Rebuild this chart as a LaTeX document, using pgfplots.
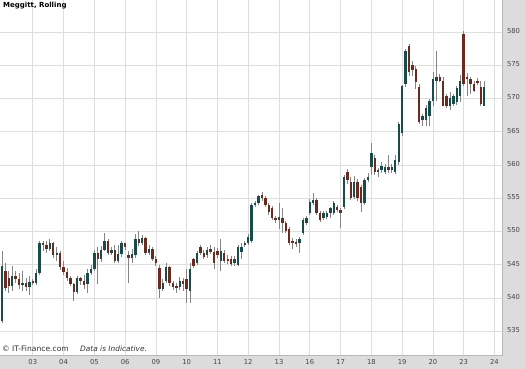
\documentclass[border=0pt]{standalone}
\usepackage{pgfplots}
\pgfplotsset{compat=1.18}
\usepackage{pgfplotstable}
\usepackage{fontspec}
\setmainfont{DejaVu Sans}
\definecolor{upc}{HTML}{1B4A4A}
\definecolor{dnc}{HTML}{692A20}
\definecolor{wickc}{HTML}{858585}
\definecolor{band}{HTML}{DCDCDC}
\definecolor{gridc}{HTML}{DEDEDE}
\definecolor{lab}{HTML}{454545}
\definecolor{bord}{HTML}{B8B8B8}

\pgfplotstableread{
t O H L C
0 536.5 547.1 536.2 544.8
1 544.1 545.3 541.1 541.5
2 543.0 544.1 540.8 541.8
3 541.8 544.8 541.1 543.3
4 543.3 544.0 542.3 542.9
5 542.9 543.8 541.4 541.9
6 541.9 544.1 541.1 542.2
7 542.2 543.0 541.1 541.6
8 541.6 543.3 540.5 542.4
9 542.4 542.8 542.0 542.3
10 542.3 544.3 542.0 543.8
11 543.8 548.6 543.5 548.3
12 548.3 548.6 547.0 548.0
13 548.0 548.5 546.8 547.3
14 547.3 548.8 547.0 548.2
15 548.2 548.4 546.0 546.5
16 546.5 547.6 545.5 546.8
17 546.8 547.0 544.2 544.6
18 544.6 545.5 543.4 543.9
19 543.9 544.5 542.6 543.0
20 543.0 543.3 541.8 542.1
21 542.1 542.3 539.6 540.9
22 540.9 543.3 540.6 543.0
23 543.0 543.2 542.0 542.6
24 542.6 543.5 541.3 542.0
25 542.1 544.4 540.8 543.8
26 543.8 544.9 543.5 544.4
27 544.4 547.2 544.0 546.7
28 546.7 547.6 542.1 545.9
29 545.9 547.8 545.4 547.2
30 547.2 549.7 547.0 548.6
31 548.6 548.9 546.4 546.8
32 546.8 547.7 546.4 547.2
33 547.2 548.0 545.3 545.6
34 545.6 547.9 545.3 546.6
35 546.6 548.6 546.2 548.2
36 548.2 548.3 547.2 547.7
37 546.4 547.0 542.3 546.0
38 546.0 547.4 545.2 546.6
39 546.4 549.6 546.0 548.9
40 548.9 550.0 547.8 548.3
41 548.3 549.4 547.9 549.0
42 549.0 549.2 546.5 546.7
43 546.7 548.0 546.4 547.4
44 547.4 547.6 545.5 545.9
45 545.9 546.3 544.8 545.2
46 544.5 545.0 540.0 541.4
47 541.4 542.9 541.0 542.3
48 542.5 545.3 542.2 544.6
49 544.6 544.8 541.8 542.3
50 542.3 542.6 541.2 541.7
51 541.7 542.2 540.8 541.6
52 541.6 543.1 541.2 542.6
53 542.6 543.0 541.0 542.1
54 542.9 544.4 539.2 541.4
55 541.1 545.3 539.2 544.4
56 545.8 546.0 544.5 544.8
57 545.3 547.0 545.0 546.7
58 547.6 548.0 546.4 546.7
59 546.7 547.2 545.8 546.2
60 546.4 547.6 546.0 547.2
61 547.4 547.9 546.6 546.9
62 546.9 547.6 544.4 545.3
63 547.1 547.5 546.0 546.4
64 545.6 548.9 544.1 547.1
65 546.7 547.2 545.3 545.6
66 545.9 546.4 545.1 545.6
67 545.9 546.3 544.8 545.1
68 545.3 546.3 544.8 545.9
69 545.0 548.0 544.8 547.6
70 546.9 548.2 545.9 547.6
71 547.9 548.6 547.6 548.2
72 548.2 549.6 548.0 549.2
73 548.6 554.2 548.3 553.9
74 553.9 554.5 553.6 554.2
75 554.2 555.5 553.9 555.3
76 555.5 555.9 554.6 555.0
77 555.0 555.3 553.6 553.9
78 553.9 554.2 552.5 552.9
79 553.5 553.8 551.7 552.0
80 552.0 552.3 551.3 551.7
81 551.7 554.2 550.3 552.2
82 552.0 553.5 549.7 551.2
83 551.2 551.5 549.7 550.0
84 550.3 550.6 547.9 548.2
85 548.6 549.0 547.3 548.2
86 548.4 548.9 547.6 548.2
87 548.2 549.2 546.7 548.9
88 549.7 552.0 549.4 551.7
89 551.2 552.3 550.9 552.0
90 552.7 554.8 552.5 554.4
91 554.2 555.8 553.9 554.7
92 554.7 555.0 552.4 552.7
93 552.7 553.0 551.4 551.7
94 552.0 553.0 551.7 552.7
95 552.1 553.0 551.8 552.7
96 552.7 553.6 552.0 553.5
97 552.7 554.5 552.4 554.2
98 553.6 553.9 552.9 553.2
99 553.2 553.5 550.5 552.7
100 553.6 558.5 553.3 558.2
101 558.9 559.4 557.2 557.7
102 557.4 558.2 554.7 555.0
103 555.2 558.4 554.8 557.4
104 557.4 557.8 554.6 555.0
105 556.7 557.0 552.9 554.2
106 554.2 558.0 554.0 557.7
107 557.7 558.8 557.4 558.2
108 559.7 563.3 558.5 561.8
109 561.1 561.5 558.5 558.9
110 558.9 559.6 558.2 559.2
111 559.2 560.4 558.8 559.8
112 558.9 560.2 558.6 559.7
113 559.7 561.5 558.8 559.2
114 559.2 560.2 558.8 559.7
115 558.9 561.5 558.6 560.8
116 560.5 566.4 560.0 566.1
117 564.8 572.0 564.3 571.8
118 572.1 577.4 571.7 577.1
119 577.9 578.2 573.4 573.9
120 575.0 575.6 573.4 574.2
121 574.4 574.9 571.4 572.4
122 571.7 572.1 566.1 566.4
123 566.8 567.7 565.8 567.3
124 566.8 569.0 565.8 568.6
125 567.3 569.9 565.8 569.6
126 569.6 573.9 568.9 572.9
127 572.6 577.2 569.6 573.3
128 573.3 573.6 572.4 572.6
129 572.6 573.3 568.8 568.9
130 570.4 570.6 568.5 568.9
131 568.9 570.9 568.3 570.1
132 569.2 570.6 568.9 570.4
133 569.4 571.8 569.0 571.5
134 570.4 573.5 569.5 572.6
135 579.7 580.2 571.8 572.1
136 573.3 573.9 570.4 572.9
137 572.9 573.3 570.7 572.1
138 572.1 572.6 571.0 571.1
139 572.6 573.0 572.0 572.3
140 571.7 572.6 568.8 569.2
141 568.9 572.6 568.8 571.7
}\candles

\begin{document}
\begin{tikzpicture}[x=1pt,y=1pt]
\useasboundingbox (0,-14) rectangle (525,355);
\fill[band] (0,-14) rectangle (525,355);
\begin{axis}[
  at={(0,0)}, anchor=south west, scale only axis,
  width=502pt, height=355pt,
  xmin=-0.58, xmax=146.2, ymin=531.4, ymax=584.8,
  axis background/.style={fill=white},
  axis line style={draw=none},
  xtick={9,18,...,144},
  xticklabels={03,04,05,06,09,10,11,12,13,16,17,18,19,20,23,24},
  ytick={535,540,...,580},
  /pgf/number format/assume math mode=true,
  yticklabel pos=right,
  yticklabel style={xshift=1.5pt, yshift=1pt},
  xticklabel style={yshift=-1pt},
  grid=major,
  major grid style={gridc, line width=0.6pt},
  major tick length=0pt,
  tick label style={font=\fontsize{6.8}{7}\selectfont, text=lab},
  clip=true,
]
\addplot[draw=none, mark=none, forget plot,
  error bars/.cd, y dir=both, y explicit, error mark=none,
  error bar style={draw=wickc, line width=0.8pt}]
  table[x=t, y expr={(\thisrow{H}+\thisrow{L})/2}, y error expr={(\thisrow{H}-\thisrow{L})/2}] {\candles};
\addplot[draw=none, mark=none, forget plot,
  error bars/.cd, y dir=both, y explicit, error mark=none,
  error bar style={draw=upc, line width=2.4pt}]
  table[x=t, y expr={\thisrow{C}>=\thisrow{O} ? (\thisrow{O}+\thisrow{C})/2 : nan},
        y error expr={max(abs(\thisrow{C}-\thisrow{O})/2,0.12)}] {\candles};
\addplot[draw=none, mark=none, forget plot,
  error bars/.cd, y dir=both, y explicit, error mark=none,
  error bar style={draw=dnc, line width=2.4pt}]
  table[x=t, y expr={\thisrow{C}<\thisrow{O} ? (\thisrow{O}+\thisrow{C})/2 : nan},
        y error expr={max(abs(\thisrow{C}-\thisrow{O})/2,0.12)}] {\candles};
\end{axis}
\draw[bord, line width=0.6pt] (0,0) -- (502,0) -- (502,355);
\node[anchor=north west, inner sep=0pt, font=\bfseries\fontsize{7}{8}\selectfont] at (3,353) {Meggitt, Rolling};
\node[anchor=base west, inner sep=0pt, font=\fontsize{7.6}{8}\selectfont, text=black!80] at (2,3) {© IT-Finance.com};
\node[anchor=base west, inner sep=0pt, font=\itshape\fontsize{7.4}{8}\selectfont, text=black!80] at (80,3) {Data is Indicative.};
\end{tikzpicture}
\end{document}
